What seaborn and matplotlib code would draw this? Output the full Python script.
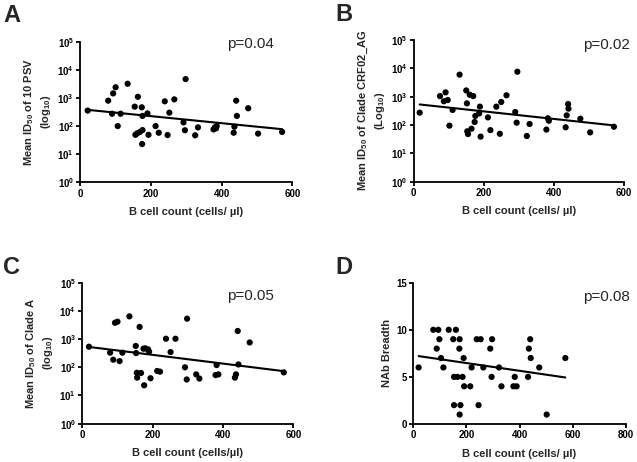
import numpy as np
import matplotlib
matplotlib.use('Agg')
import matplotlib.pyplot as plt
import seaborn as sns
from matplotlib.ticker import NullLocator

sns.set_style('ticks')
plt.rcParams['font.family'] = ['Liberation Sans', 'DejaVu Sans']
plt.rcParams.update({
    'mathtext.fontset': 'custom',
    'mathtext.rm': 'Liberation Sans',
    'mathtext.bf': 'Liberation Sans:bold',
    'mathtext.default': 'bf',
    'axes.linewidth': 1.3,
    'axes.edgecolor': 'black',
})

# ===== data =====
# A: mean ID50 of 10 PSV
a_x = [21, 79, 93, 100, 90, 106, 114, 134, 154, 163, 174, 176, 156, 161, 169, 176, 175,
       190, 193, 213, 222, 239, 247, 252, 266, 292, 296, 298, 325, 333, 377, 381, 386,
       384, 434, 436, 441, 443, 475, 503, 571]
a_y = [355, 800, 1450, 2400, 275, 100, 275, 3200, 490, 1100, 465, 230, 49, 55, 62, 72, 23,
       282, 49, 100, 58, 760, 48, 300, 890, 135, 71, 4700, 47, 90, 76, 90, 100,
       83, 58, 95, 800, 230, 430, 54, 62]

# B: mean ID50 of clade CRF02_AG
b_x = [17, 75, 86, 91, 97, 102, 111, 131, 150, 152, 153, 155, 160, 165, 170, 174, 176,
       187, 189, 191, 212, 219, 236, 246, 250, 265, 290, 294, 296, 323, 331, 379, 383,
       386, 434, 437, 441, 442, 476, 504, 572]
b_y = [273, 1050, 690, 1420, 760, 95, 340, 6000, 1660, 580, 60, 48, 1170, 74, 1050, 128, 209,
       257, 445, 39, 186, 66, 445, 49, 650, 1120, 287, 121, 7600, 41, 109, 69, 173,
       142, 83, 219, 550, 378, 167, 55, 87]

# C: mean ID50 of clade A
c_x = [19, 79, 88, 93, 100, 106, 114, 134, 152, 153, 155, 156, 163, 167, 174, 176, 179,
       187, 190, 194, 213, 221, 238, 251, 265, 292, 297, 298, 324, 333, 379, 382, 387,
       434, 437, 442, 444, 476, 573]
c_y = [537, 330, 186, 3800, 4150, 166, 330, 6400, 570, 320, 64, 43, 2700, 63, 457, 23, 470,
       434, 357, 41, 74, 70, 1030, 347, 1030, 100, 37, 5300, 56, 40, 53, 120, 56,
       43, 56, 1940, 126, 760, 66]

# D: NAb breadth
d_x = [21, 76, 95, 89, 99, 105, 114, 134, 151, 161, 154, 167, 154, 175, 174, 178, 175,
       190, 186, 192, 215, 220, 239, 254, 246, 264, 290, 297, 295, 323, 332, 377, 382,
       389, 432, 435, 440, 442, 474, 502, 572]
d_y = [6, 10, 10, 8, 9, 7, 6, 10, 9, 10, 5, 5, 2, 9, 8, 2, 1,
       7, 5, 4, 4, 6, 9, 9, 2, 6, 8, 9, 5, 6, 4, 4, 5,
       4, 5, 8, 9, 7, 6, 1, 7]

p_values = ['p=0.04', 'p=0.02', 'p=0.05', 'p=0.08']
panel_letters = ['A', 'B', 'C', 'D']
log_exponents = [0, 1, 2, 3, 4, 5]
x_label = 'B cell count (cells/ \u00b5l)'
x_label_c = 'B cell count (cells/\u00b5l)'
y_labels = [
    'Mean ID$_{50}$ of 10 PSV\n(log$_{10}$)',
    'Mean ID$_{50}$ of Clade CRF02_AG\n(Log$_{10}$)',
    'Mean ID$_{50}$ of Clade A\n(log$_{10}$)',
    'NAb Breadth',
]

fig = plt.figure(figsize=(6.37, 4.62), dpi=100)
ax_a = fig.add_axes([0.126, 0.6054, 0.333, 0.3043])
ax_b = fig.add_axes([0.6495, 0.6067, 0.3297, 0.3067])
ax_c = fig.add_axes([0.1292, 0.0829, 0.3312, 0.3052])
ax_d = fig.add_axes([0.6484, 0.0823, 0.3344, 0.3058])

panels = [
    (ax_a, a_x, a_y, True, x_label, (0.914, 0.953)),
    (ax_b, b_x, b_y, True, x_label, (1.03, 0.936)),
    (ax_c, c_x, c_y, True, x_label_c, (0.909, 0.877)),
    (ax_d, d_x, d_y, False, x_label, (1.019, 0.870)),
]

for i, (ax, xs, ys, is_log, xl, ppos) in enumerate(panels):
    xs = np.array(xs, dtype=float)
    ys = np.array(ys, dtype=float)
    sns.scatterplot(x=xs, y=ys, ax=ax, color='black', s=20,
                    edgecolor='none', linewidth=0, zorder=3)
    # least-squares fit (log10 scale for the ID50 panels)
    xfit = np.array([xs.min(), xs.max()])
    if is_log:
        k, b = np.polyfit(xs, np.log10(ys), 1)
        yfit = 10 ** (k * xfit + b)
    else:
        k, b = np.polyfit(xs, ys, 1)
        yfit = k * xfit + b
    ax.plot(xfit, yfit, color='black', lw=1.5, zorder=2)

    if is_log:
        ax.set_yscale('log')
        ax.set_ylim(1, 1e5)
        ax.set_yticks([10.0 ** e for e in log_exponents],
                      labels=['$10^{%d}$' % e for e in log_exponents])
        ax.yaxis.set_minor_locator(NullLocator())
        ax.set_xlim(0, 600)
        ax.set_xticks([0, 200, 400, 600])
    else:
        ax.set_ylim(0, 15)
        ax.set_yticks([0, 5, 10, 15])
        ax.set_xlim(0, 800)
        ax.set_xticks([0, 200, 400, 600, 800])

    ax.tick_params(axis='both', length=3, width=1.3, labelsize=7, pad=1.5,
                   colors='black')
    for lab in ax.get_xticklabels() + ax.get_yticklabels():
        lab.set_fontweight('bold')
    sns.despine(ax=ax)
    ax.set_xlabel(xl, fontsize=8, fontweight='bold', labelpad=6)
    ax.set_ylabel(y_labels[i], fontsize=8, fontweight='bold', labelpad=3,
                  linespacing=1.3)
    ax.text(ppos[0], ppos[1], p_values[i], transform=ax.transAxes,
            ha='right', va='baseline', fontsize=11)

letter_pos = [(3, 22), (335, 21), (3, 274), (335, 274)]
for letter, (px, py) in zip(panel_letters, letter_pos):
    fig.text(px / 637, 1 - py / 462, letter, fontsize=17, fontweight='bold',
             ha='left', va='baseline')

fig.savefig('out.png', dpi=100)
plt.close()
